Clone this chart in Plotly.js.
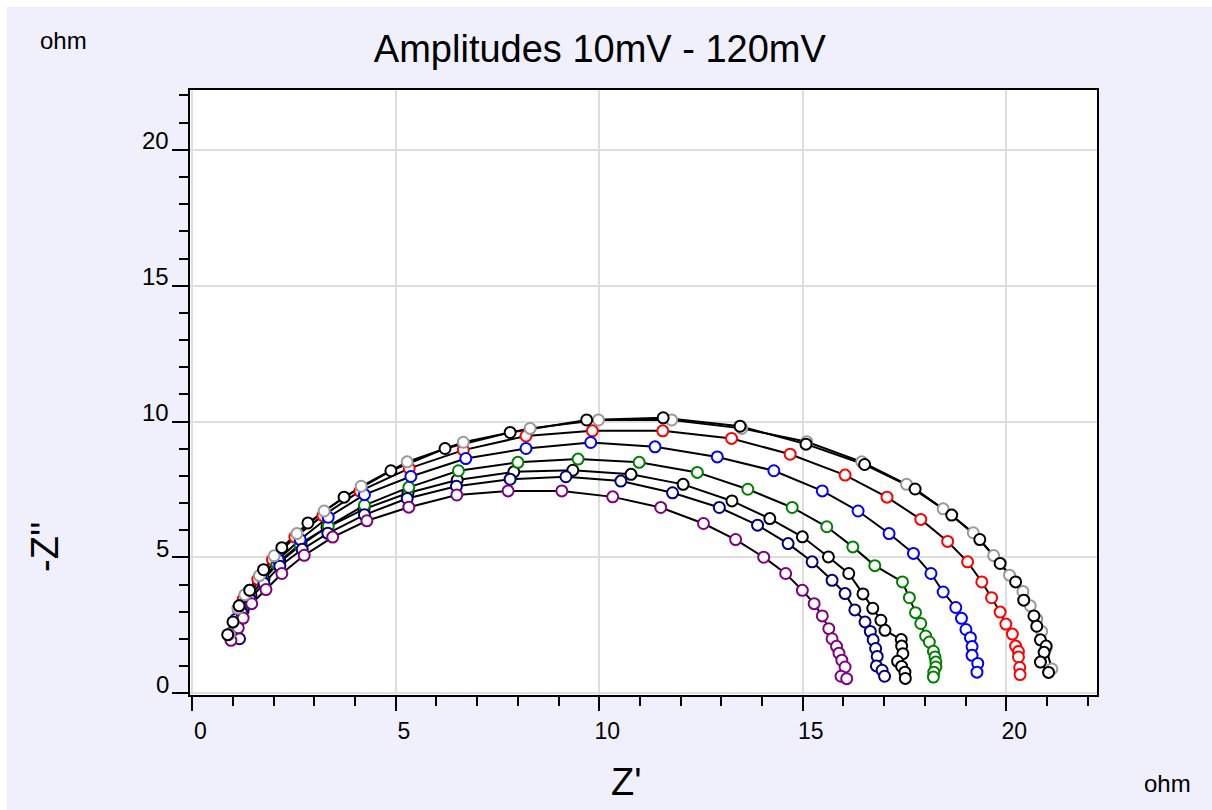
<!DOCTYPE html>
<html>
<head>
<meta charset="utf-8">
<script src="https://cdn.plot.ly/plotly-3.0.1.min.js"></script>
<style>
  html, body { margin: 0; padding: 0; background: #ffffff; }
  #chart { position: absolute; left: 7px; top: 7px; width: 1205px; height: 803px; }
</style>
</head>
<body>
<div id="chart"></div>
<script>
const blackOuterX = [0.87,1.00,1.15,1.41,1.75,2.20,2.84,3.73,4.88,6.21,7.81,9.69,11.57,13.46,15.08,16.52,17.76,18.66,19.35,19.85,20.23,20.43,20.68,20.75,20.84,20.98,20.93,20.84,21.04];
const blackOuterY = [2.16,2.63,3.22,3.79,4.55,5.36,6.27,7.22,8.19,9.01,9.60,10.06,10.14,9.83,9.17,8.42,7.52,6.56,5.66,4.78,4.10,3.43,2.85,2.47,1.97,1.74,1.51,1.15,0.77];

const grayX = [0.91,1.01,1.12,1.29,1.65,2.01,2.57,3.24,4.15,5.28,6.66,8.30,9.98,11.78,13.50,15.10,16.45,17.55,18.45,19.19,19.69,20.08,20.41,20.59,20.75,20.87,20.98,21.12];
const grayY = [2.17,2.63,3.13,3.63,4.33,5.06,5.88,6.71,7.62,8.52,9.24,9.75,10.06,10.06,9.75,9.26,8.52,7.69,6.79,5.91,5.07,4.35,3.75,3.22,2.73,2.28,1.66,0.90];

const redX = [0.95,1.04,1.14,1.25,1.61,1.97,2.52,3.21,4.12,5.33,6.66,8.20,9.83,11.56,13.25,14.69,16.04,17.07,17.90,18.56,19.05,19.40,19.64,19.85,19.99,20.15,20.23,20.30,20.30,20.33,20.34];
const redY = [2.21,2.65,3.06,3.46,4.20,4.92,5.75,6.54,7.44,8.28,8.95,9.47,9.66,9.66,9.38,8.80,8.03,7.22,6.40,5.59,4.84,4.10,3.52,2.99,2.55,2.18,1.74,1.54,1.34,0.95,0.69];

const blueX = [1.00,1.07,1.20,1.41,1.69,2.11,2.65,3.34,4.23,5.37,6.72,8.20,9.79,11.37,12.90,14.29,15.48,16.36,17.12,17.72,18.15,18.45,18.76,18.90,19.01,19.12,19.16,19.16,19.30,19.28];
const blueY = [2.25,2.73,3.24,3.79,4.35,4.92,5.66,6.48,7.31,7.98,8.64,9.01,9.23,9.07,8.70,8.19,7.45,6.71,5.88,5.15,4.41,3.73,3.16,2.76,2.35,2.05,1.72,1.40,1.10,0.78];

const greenX = [1.00,1.09,1.21,1.41,1.71,2.08,2.65,3.34,4.23,5.32,6.54,8.00,9.48,10.98,12.41,13.65,14.74,15.59,16.23,16.77,17.45,17.62,17.77,17.90,18.02,18.11,18.21,18.25,18.27,18.27,18.22,18.21];
const greenY = [2.14,2.62,3.13,3.70,4.27,4.75,5.43,6.15,6.92,7.58,8.19,8.50,8.62,8.50,8.13,7.51,6.84,6.13,5.39,4.70,4.10,3.52,2.97,2.57,2.11,1.89,1.55,1.34,1.15,0.97,0.78,0.60];

const blackInnerX = [1.05,1.12,1.25,1.44,1.76,2.15,2.67,3.31,4.22,5.30,6.51,7.90,9.35,10.78,12.06,13.26,14.19,14.99,15.63,16.13,16.48,16.72,16.92,17.02,17.42,17.43,17.46,17.33,17.43,17.51,17.52];
const blackInnerY = [2.10,2.58,3.06,3.61,4.20,4.86,5.52,6.11,6.78,7.37,7.85,8.15,8.21,8.06,7.69,7.08,6.43,5.76,5.02,4.41,3.66,3.13,2.69,2.32,1.98,1.74,1.46,1.18,0.99,0.78,0.55];

const navyX = [1.16,1.07,1.22,1.42,1.76,2.15,2.70,3.33,4.23,5.28,6.49,7.81,9.18,10.53,11.80,12.95,13.89,14.64,15.23,15.72,16.04,16.28,16.53,16.66,16.73,16.79,16.83,16.81,16.95,17.01];
const navyY = [2.01,2.47,2.95,3.46,4.05,4.68,5.30,5.89,6.57,7.17,7.62,7.88,7.97,7.81,7.38,6.84,6.19,5.51,4.84,4.16,3.67,3.07,2.63,2.28,1.97,1.65,1.36,1.01,0.85,0.63];

const purpleX = [0.95,1.13,1.25,1.46,1.81,2.20,2.75,3.45,4.29,5.32,6.50,7.76,9.08,10.33,11.51,12.56,13.35,14.04,14.58,14.99,15.28,15.48,15.64,15.72,15.83,15.89,15.96,16.04,15.94,16.08];
const purpleY = [1.95,2.41,2.77,3.30,3.82,4.41,5.08,5.75,6.35,6.85,7.30,7.45,7.45,7.23,6.84,6.25,5.66,5.01,4.41,3.79,3.30,2.85,2.38,2.01,1.73,1.48,1.22,0.97,0.63,0.54];

const seriesNames  = ['black 1', 'gray', 'red', 'blue', 'green', 'black 2', 'navy', 'purple'];
const seriesColors = ['#000000', '#999999', '#ff0000', '#0000ff', '#008000', '#000000', '#000080', '#800080'];

const yTickValues = [0, 5, 10, 15, 20];
const yTickLabels = ['0', '5', '10', '15', '20'];

const chartTitle = 'Amplitudes 10mV - 120mV';
const xTitle = "Z'";
const yTitle = "-Z''";
const unitLabel = 'ohm';

const allX = [blackOuterX, grayX, redX, blueX, greenX, blackInnerX, navyX, purpleX];
const allY = [blackOuterY, grayY, redY, blueY, greenY, blackInnerY, navyY, purpleY];

const FONT = 'Arial, "Liberation Sans", sans-serif';

const traces = [];
// black connecting lines first (underneath every marker)
for (let i = 0; i < allX.length; i++) {
  traces.push({
    x: allX[i], y: allY[i], type: 'scatter', mode: 'lines',
    line: { color: '#000000', width: 2 }, hoverinfo: 'skip', showlegend: false
  });
}
// markers, in stacking order bottom -> top
const markerOrder = [5, 2, 4, 3, 6, 7, 1, 0];
for (const i of markerOrder) {
  traces.push({
    x: allX[i], y: allY[i], type: 'scatter', mode: 'markers', name: seriesNames[i],
    marker: { symbol: 'circle', size: 11, color: '#ffffff', line: { color: seriesColors[i], width: 2 } },
    showlegend: false
  });
}

const axisCommon = {
  showline: true, linecolor: '#000000', linewidth: 2, mirror: true,
  showgrid: true, gridcolor: '#dedede', gridwidth: 2,
  zeroline: false,
  ticks: 'outside', tickcolor: '#000000', tickwidth: 2,
  tick0: 0, dtick: 5,
  minor: { dtick: 1, ticks: 'outside', ticklen: 9, tickwidth: 2, tickcolor: '#000000', showgrid: false },
  tickfont: { family: FONT, size: 23, color: '#000000' }
};

const annotations = [
  { text: unitLabel, xref: 'paper', yref: 'paper', x: -0.1395, y: 1.081, xanchor: 'center', yanchor: 'middle', showarrow: false, font: { family: FONT, size: 24, color: '#000000' } },
  { text: unitLabel, xref: 'paper', yref: 'paper', x: 1.0777, y: -0.1455, xanchor: 'center', yanchor: 'middle', showarrow: false, font: { family: FONT, size: 24, color: '#000000' } },
  { text: xTitle, xref: 'paper', yref: 'paper', x: 0.4807, y: -0.1438, xanchor: 'center', yanchor: 'middle', showarrow: false, font: { family: FONT, size: 38, color: '#000000' } },
  { text: yTitle, xref: 'paper', yref: 'paper', x: -0.160, y: 0.2446, xanchor: 'center', yanchor: 'middle', textangle: -90, showarrow: false, font: { family: FONT, size: 38, color: '#000000' } }
];
// y tick labels: sit just above-left of their tick, as in the reference
for (let k = 0; k < yTickValues.length; k++) {
  annotations.push({
    text: yTickLabels[k], xref: 'paper', yref: 'y', x: 0, y: yTickValues[k],
    xanchor: 'right', yanchor: 'middle', xshift: -19, yshift: 9, showarrow: false,
    font: { family: FONT, size: 24, color: '#000000' }
  });
}

const layout = {
  width: 1205, height: 803,
  paper_bgcolor: '#f0f0fc', plot_bgcolor: '#ffffff',
  margin: { l: 183, r: 115, t: 83, b: 115 },
  showlegend: false,
  title: { text: chartTitle, font: { family: FONT, size: 38, color: '#000000' },
           x: 0.492, xanchor: 'center', xref: 'container', y: 0.948, yanchor: 'middle', yref: 'container' },
  xaxis: Object.assign({}, axisCommon, { range: [-0.0565, 22.23], ticklen: 14, ticklabelshift: 8 }),
  yaxis: Object.assign({}, axisCommon, { range: [-0.06, 22.2], ticklen: 16, showticklabels: false }),
  annotations: annotations
};

Plotly.newPlot('chart', traces, layout, { displayModeBar: false, staticPlot: true });
</script>
</body>
</html>
